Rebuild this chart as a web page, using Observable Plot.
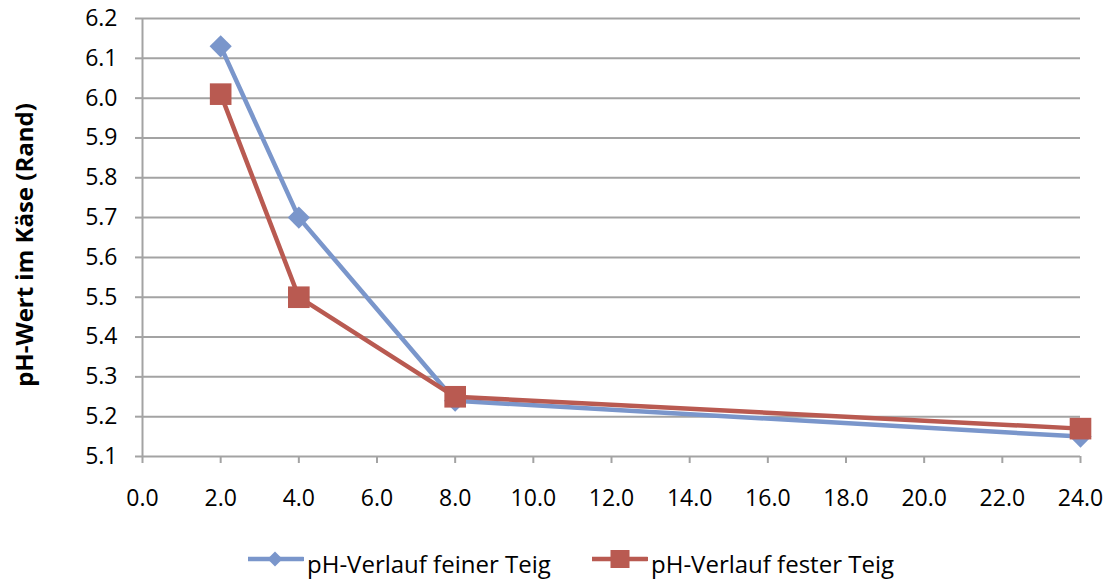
<!DOCTYPE html>
<html><head><meta charset="utf-8">
<script src="https://cdn.jsdelivr.net/npm/d3@7"></script>
<script src="https://cdn.jsdelivr.net/npm/@observablehq/plot@0.6"></script>
<style>
body{margin:0;background:#fff;font-family:"Open Sans",sans-serif;}
#wrap{position:relative;width:1105px;height:579px;overflow:hidden;}
#ylabel{position:absolute;left:24px;top:245px;line-height:24px;transform:translate(-50%,-50%) rotate(-90deg);font-weight:bold;font-size:24px;white-space:nowrap;color:#000;}
.legsym{position:absolute;top:547px;}
.legtxt{position:absolute;top:552px;font-size:24px;line-height:24px;color:#000;white-space:nowrap;}
</style></head>
<body>
<div id="wrap">
  <div id="chart"></div>
  <div id="ylabel">pH-Wert im Käse (Rand)</div>
  <div id="legend"></div>
</div>
<script>
const hours = [2, 4, 8, 24];
const feinerTeig = [6.13, 5.70, 5.24, 5.15];
const festerTeig = [6.01, 5.50, 5.25, 5.17];
const seriesNames = ["pH-Verlauf feiner Teig", "pH-Verlauf fester Teig"];
const xTicks = [0, 2, 4, 6, 8, 10, 12, 14, 16, 18, 20, 22, 24];
const yTicks = [5.1, 5.2, 5.3, 5.4, 5.5, 5.6, 5.7, 5.8, 5.9, 6.0, 6.1, 6.2];
const colors = ["#7a96cb", "#b95a51"];
const symbols = ["diamond2", "square"];
const radii = [10, 12.2];

const data = [];
hours.forEach((h, i) => data.push({x: h, y: feinerTeig[i], s: seriesNames[0]}));
hours.forEach((h, i) => data.push({x: h, y: festerTeig[i], s: seriesNames[1]}));

const fmt = d3.format(".1f");
const grid = "#a3a3a3";

const chart = Plot.plot({
  width: 1105,
  height: 545,
  marginLeft: 142,
  marginRight: 25,
  marginTop: 18,
  marginBottom: 89,
  style: {fontFamily: "'Open Sans', sans-serif", fontSize: "23px", color: "#000", background: "#fff"},
  x: {domain: [0, 24]},
  y: {domain: [5.1, 6.2]},
  color: {domain: seriesNames, range: colors},
  symbol: {domain: seriesNames, range: symbols},
  marks: [
    Plot.gridY(yTicks, {stroke: grid, strokeOpacity: 1, strokeWidth: 2}),
    Plot.ruleX([0], {stroke: grid, strokeWidth: 2}),
    Plot.axisY({ticks: yTicks, tickFormat: fmt, tickSize: 7, tickPadding: 18, stroke: grid, strokeWidth: 2, label: null, fontSize: 23}),
    Plot.axisX({ticks: xTicks, tickFormat: fmt, tickSize: 7, tickPadding: 26, stroke: grid, strokeWidth: 2, label: null, fontSize: 23}),
    Plot.line(data, {x: "x", y: "y", z: "s", stroke: "s", strokeWidth: 4.5}),
    Plot.dot(data.filter(d => d.s === seriesNames[0]), {x: "x", y: "y", symbol: "s", fill: "s", r: radii[0], stroke: "none"}),
    Plot.dot(data.filter(d => d.s === seriesNames[1]), {x: "x", y: "y", symbol: "s", fill: "s", r: radii[1], stroke: "none"})
  ]
});
document.getElementById("chart").appendChild(chart);

// legend
const legend = document.getElementById("legend");
const legSym = [248, 592];
const legTxt = [307, 651];
seriesNames.forEach((name, i) => {
  const s = document.createElement("div");
  s.className = "legsym";
  s.style.left = legSym[i] + "px";
  const marker = i === 0
    ? `<path d="M27,4.5 L34.5,12 L27,19.5 L19.5,12 Z" fill="${colors[i]}"/>`
    : `<rect x="18.5" y="3" width="19" height="18" fill="${colors[i]}"/>`;
  s.innerHTML = `<svg width="56" height="24"><line x1="0" x2="55" y1="12" y2="12" stroke="${colors[i]}" stroke-width="4.5" stroke-linecap="round"/>${marker}</svg>`;
  legend.appendChild(s);
  const t = document.createElement("div");
  t.className = "legtxt";
  t.style.left = legTxt[i] + "px";
  t.textContent = name;
  legend.appendChild(t);
});
</script>
</body></html>
